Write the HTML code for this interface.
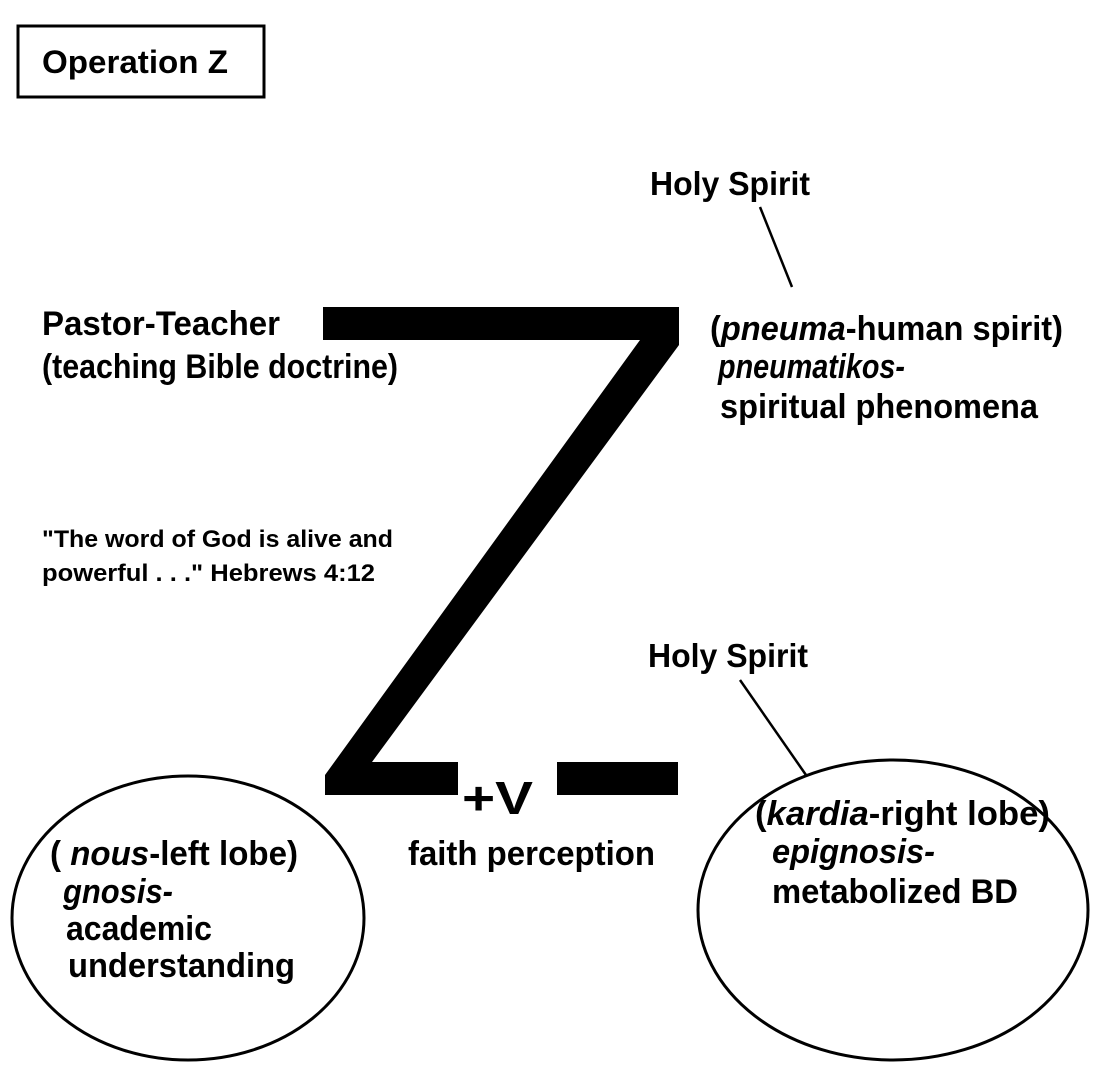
<!DOCTYPE html>
<html><head><meta charset="utf-8"><style>
html,body{margin:0;padding:0;background:#fff;}
svg{display:block;}
text{font-family:"Liberation Sans",Arial,sans-serif;font-weight:bold;fill:#000;}
</style></head><body>
<svg width="1099" height="1087" viewBox="0 0 1099 1087" xmlns="http://www.w3.org/2000/svg">
<rect x="18" y="26" width="246" height="71" fill="none" stroke="#000" stroke-width="3"/>
<text x="42" y="73" font-size="32" textLength="186" lengthAdjust="spacingAndGlyphs">Operation Z</text>

<polygon points="323,307 679,307 679,345 372,762 458,762 458,795 325,795 325,775 640,340 323,340" fill="#000"/>
<rect x="557" y="762" width="121" height="33" fill="#000"/>
<text x="462" y="814" font-size="46" textLength="71" lengthAdjust="spacingAndGlyphs">+V</text>

<text x="650" y="195" font-size="33" textLength="160" lengthAdjust="spacingAndGlyphs">Holy Spirit</text>
<line x1="760" y1="207" x2="792" y2="287" stroke="#000" stroke-width="2.5"/>

<text x="42" y="335" font-size="34" textLength="238" lengthAdjust="spacingAndGlyphs">Pastor-Teacher</text>
<text x="42" y="378" font-size="34" textLength="356" lengthAdjust="spacingAndGlyphs">(teaching Bible doctrine)</text>

<text x="710" y="340" font-size="34" textLength="353" lengthAdjust="spacingAndGlyphs">(<tspan font-style="italic">pneuma</tspan>-human spirit)</text>
<text x="718" y="378" font-size="34" font-style="italic" textLength="187" lengthAdjust="spacingAndGlyphs">pneumatikos-</text>
<text x="720" y="418" font-size="34" textLength="318" lengthAdjust="spacingAndGlyphs">spiritual phenomena</text>

<text x="42" y="547" font-size="24" textLength="351" lengthAdjust="spacingAndGlyphs">"The word of God is alive and</text>
<text x="42" y="581" font-size="24" textLength="333" lengthAdjust="spacingAndGlyphs">powerful . . ."  Hebrews 4:12</text>

<text x="648" y="667" font-size="33" textLength="160" lengthAdjust="spacingAndGlyphs">Holy Spirit</text>
<line x1="740" y1="680" x2="806" y2="775" stroke="#000" stroke-width="2.5"/>

<ellipse cx="188" cy="918" rx="176" ry="142" fill="none" stroke="#000" stroke-width="3"/>
<ellipse cx="893" cy="910" rx="195" ry="150" fill="none" stroke="#000" stroke-width="3"/>

<text x="50" y="865" font-size="34" textLength="248" lengthAdjust="spacingAndGlyphs">( <tspan font-style="italic">nous</tspan>-left lobe)</text>
<text x="63" y="903" font-size="34" font-style="italic" textLength="110" lengthAdjust="spacingAndGlyphs">gnosis-</text>
<text x="66" y="940" font-size="34" textLength="146" lengthAdjust="spacingAndGlyphs">academic</text>
<text x="68" y="977" font-size="34" textLength="227" lengthAdjust="spacingAndGlyphs">understanding</text>

<text x="408" y="865" font-size="34" textLength="247" lengthAdjust="spacingAndGlyphs">faith perception</text>

<text x="755" y="825" font-size="34" textLength="295" lengthAdjust="spacingAndGlyphs">(<tspan font-style="italic">kardia</tspan>-right lobe)</text>
<text x="772" y="863" font-size="34" font-style="italic" textLength="163" lengthAdjust="spacingAndGlyphs">epignosis-</text>
<text x="772" y="903" font-size="34" textLength="246" lengthAdjust="spacingAndGlyphs">metabolized BD</text>
</svg>
</body></html>
